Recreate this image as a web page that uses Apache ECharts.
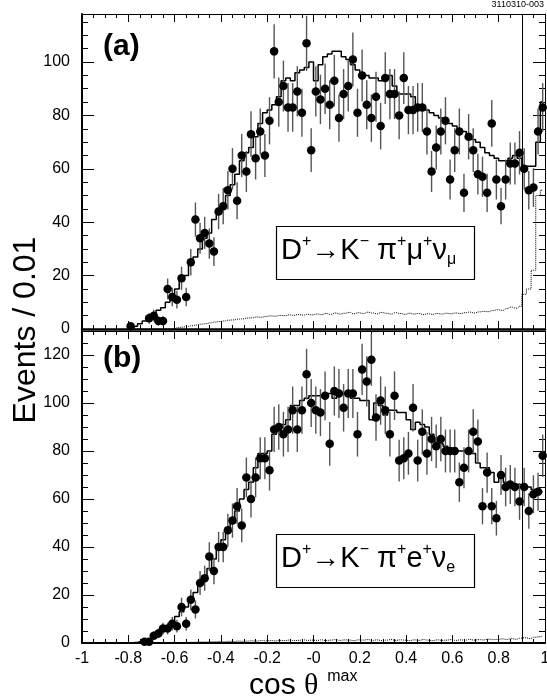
<!DOCTYPE html>
<html>
<head>
<meta charset="utf-8">
<script src="https://cdn.jsdelivr.net/npm/echarts/dist/echarts.min.js"></script>
<style>
html, body { margin: 0; padding: 0; background: #fff; }
#main { width: 547px; height: 698px; }
</style>
</head>
<body>
<div id="main"></div>
<script>
// bin centres, bin width 0.02
var binCenters = [
	-0.79,-0.77,-0.75,-0.73,-0.71,-0.69,-0.67,-0.65,-0.63,-0.61,
	-0.59,-0.57,-0.55,-0.53,-0.51,-0.49,-0.47,-0.45,-0.43,-0.41,
	-0.39,-0.37,-0.35,-0.33,-0.31,-0.29,-0.27,-0.25,-0.23,-0.21,
	-0.19,-0.17,-0.15,-0.13,-0.11,-0.09,-0.07,-0.05,-0.03,-0.01,
	0.01,0.03,0.05,0.07,0.09,0.11,0.13,0.15,0.17,0.19,
	0.21,0.23,0.25,0.27,0.29,0.31,0.33,0.35,0.37,0.39,
	0.41,0.43,0.45,0.47,0.49,0.51,0.53,0.55,0.57,0.59,
	0.61,0.63,0.65,0.67,0.69,0.71,0.73,0.75,0.77,0.79,
	0.81,0.83,0.85,0.87,0.89,0.91,0.93,0.95,0.97,0.99
];

// (a) D+ -> K- pi+ mu+ nu
var muData = [
	1, null, null, null, 4, 5, 3, 3, 15, 12,
	11, 19, 12, 25, 41, 34, 36, 32, 29, 44,
	46, 52, 60, 48, 65, 59, 73, 64, 74, 65,
	78, 104, 85, 91, 83, 83, 89, 81, 107, 67,
	89, 86, 90, 84, 93, 79, 88, 91, 101, 81,
	95, 84, 79, 87, 76, 94, 88, 88, 80, 94,
	82, 82, 83, 83, 74, 59, 68, 74, 78, 56,
	67, 74, 51, 72, 67, 58, 57, 51, 77, 56,
	46, 56, 62, 62, 66, 60, 52, 53, 74, 83
];
var muMC = [
	0.5, 1, 2, 3, 4, 5, 7, 8, 10, 13,
	15, 18, 20, 24, 27, 30, 34, 36, 41, 43,
	47, 50, 54, 58, 63, 66, 68, 72, 77, 81,
	82, 84, 87, 93, 94, 93, 96, 97, 98, 100,
	93, 99, 102, 103, 104, 104, 102, 101, 99, 97,
	96, 95, 94, 94, 93, 94, 95, 91, 88, 88,
	88, 87, 83, 83, 82, 81, 80, 79, 78, 77,
	76, 75, 74, 72, 71, 70, 68, 66, 65, 64,
	63, 63, 64, 65, 64, 61, 61, 61, 70, 85
];
var muBkg = [
	0, 0, 0, 0, 0, 0, 0, 0, 0, 0,
	0.5, 0.7, 1, 1.2, 1.5, 1.8, 2, 2.3, 2.6, 2.8,
	3, 3.3, 3.4, 3.7, 3.8, 4.1, 4.2, 4.5, 4.4, 4.7,
	4.9, 4.8, 5.1, 5.0, 5.3, 5.1, 5.4, 5.2, 5.5, 5.3,
	5.6, 5.4, 5.8, 5.5, 6.0, 5.6, 5.9, 6.2, 5.7, 6.1,
	5.8, 6.3, 6.0, 5.7, 6.2, 5.9, 5.6, 6.1, 5.8, 5.5,
	5.9, 5.6, 5.8, 5.4, 5.7, 5.5, 5.8, 5.6, 5.9, 5.7,
	6.0, 5.8, 6.1, 6.3, 6.0, 6.4, 6.6, 6.5, 6.9, 7.2,
	7.0, 7.6, 8.2, 7.8, 8.5, 13, 15, 22, 50, 52
];

// (b) D+ -> K- pi+ e+ nu
var eData = [
	null, null, null, 0.5, 0.5, 3, 4, 6, 6, 8,
	7, 15, 8, 18, 14, 25, 27, 36, 30, 40,
	40, 47, 51, 57, 49, 69, 60, 69, 77, 77,
	72, 89, 90, 87, 89, 97, 89, 97, 112, 100,
	97, 96, 103, 83, 105, 104, 98, 104, 104, 87,
	114, 109, 118, 94, 101, 97, 87, 103, 76, 77,
	79, 98, 76, 88, 79, 85, 82, 85, 80, 80,
	80, 67, 73, 80, 88, 84, 57, 71, 57, 52,
	70, 65, 66, 65, 59, 65, 55, 62, 63, 78
];
var eMC = [
	0, 0.2, 0.5, 1, 1.5, 2.5, 4, 5, 7, 9,
	11, 13, 15, 18, 21, 25, 27, 31, 35, 39,
	43, 47, 51, 55, 60, 64, 67, 73, 79, 79,
	80, 87, 88, 91, 93, 99, 99, 101, 102, 103,
	103, 103, 103, 104, 102, 104, 104, 104, 102, 102,
	101, 101, 93, 100, 99, 95, 97, 97, 96, 96,
	93, 89, 92, 91, 90, 87, 84, 83, 82, 81,
	81, 80, 80, 79, 79, 75, 73, 73, 71, 67,
	70, 67, 67, 66, 66, 65, 65, 64, 63, 63
];
var eBkg = [
	0, 0, 0, 0, 0, 0, 0, 0, 0, 0,
	0.1, 0.2, 0.2, 0.3, 0.3, 0.4, 0.4, 0.5, 0.5, 0.6,
	0.5, 0.7, 0.6, 0.8, 0.7, 0.8, 0.9, 0.8, 1.0, 0.9,
	1.0, 0.9, 1.1, 1.0, 1.2, 1.0, 1.1, 1.3, 1.1, 1.2,
	1.1, 1.3, 1.0, 1.2, 1.4, 1.1, 1.3, 1.2, 1.0, 1.3,
	1.2, 1.4, 1.1, 1.3, 1.0, 1.2, 1.4, 1.1, 1.3, 1.2,
	1.0, 1.3, 1.1, 1.4, 1.2, 1.0, 1.3, 1.1, 1.2, 1.4,
	1.1, 1.3, 1.2, 1.5, 1.2, 1.4, 1.3, 1.6, 1.4, 1.5,
	1.7, 1.5, 1.8, 1.6, 2.0, 2.2, 1.9, 2.4, 2.6, 2.8
];

var cutValue = 0.9;
var fontName = '"Liberation Sans", Arial, Helvetica, sans-serif';

function pairs(vals) {
	var out = [];
	for (var i = 0; i < binCenters.length; i++) {
		if (vals[i] != null) out.push([binCenters[i], vals[i]]);
	}
	return out;
}

// poisson error bars
function errPairs(vals) {
	var out = [];
	for (var i = 0; i < binCenters.length; i++) {
		if (vals[i] != null) {
			var e = Math.sqrt(vals[i]);
			out.push([binCenters[i], vals[i] - e, vals[i] + e]);
		}
	}
	return out;
}

function renderErr(params, api) {
	var lo = api.coord([api.value(0), api.value(1)]);
	var hi = api.coord([api.value(0), api.value(2)]);
	return {
		type: 'line',
		shape: { x1: lo[0], y1: lo[1], x2: hi[0], y2: hi[1] },
		style: { stroke: '#555', lineWidth: 1.4 }
	};
}

function xAxisFor(grid, position, showLabels, lineWidth) {
	return {
		type: 'value', gridIndex: grid, position: position,
		min: -1, max: 1, interval: 0.2,
		axisLine: { show: true, onZero: false, lineStyle: { color: '#000', width: lineWidth } },
		axisTick: { show: true, inside: true, length: 8, lineStyle: { color: '#000', width: 1 } },
		minorTick: { show: true, splitNumber: 4, length: 4, lineStyle: { color: '#000', width: 1 } },
		splitLine: { show: false },
		minorSplitLine: { show: false },
		axisLabel: {
			show: showLabels, color: '#000', fontFamily: fontName, fontSize: 16, margin: 8,
			formatter: function (v) {
				if (Math.abs(v) < 1e-9) return '-0';
				return String(Math.round(v * 10) / 10);
			}
		}
	};
}

function yAxisFor(grid, position, yMax, showLabels, lineWidth) {
	return {
		type: 'value', gridIndex: grid, position: position,
		min: 0, max: yMax, interval: 20,
		axisLine: { show: true, onZero: false, lineStyle: { color: '#000', width: lineWidth } },
		axisTick: { show: true, inside: true, length: 12, lineStyle: { color: '#000', width: 1 } },
		minorTick: { show: true, splitNumber: 4, length: 6, lineStyle: { color: '#000', width: 1 } },
		splitLine: { show: false },
		minorSplitLine: { show: false },
		axisLabel: {
			show: showLabels, color: '#000', fontFamily: fontName, fontSize: 16, margin: 12,
			showMaxLabel: false
		}
	};
}

function panelSeries(xi, yi, data, mc, bkg) {
	return [{
		type: 'line', xAxisIndex: xi, yAxisIndex: yi, step: 'middle',
		data: pairs(bkg), showSymbol: false, z: 2, silent: true,
		lineStyle: { color: '#000', width: 1, type: 'dotted' }
	}, {
		type: 'line', xAxisIndex: xi, yAxisIndex: yi, step: 'middle',
		data: pairs(mc), showSymbol: false, z: 3, silent: true,
		lineStyle: { color: '#000', width: 1.5 },
		markLine: {
			silent: true, symbol: ['none', 'none'], label: { show: false },
			lineStyle: { color: '#000', width: 1, type: 'solid' },
			data: [{ xAxis: cutValue }]
		}
	}, {
		type: 'custom', xAxisIndex: xi, yAxisIndex: yi, z: 4, clip: true,
		data: errPairs(data), renderItem: renderErr,
		encode: { x: 0, y: [1, 2] }
	}, {
		type: 'scatter', xAxisIndex: xi, yAxisIndex: yi, z: 5,
		data: pairs(data), symbol: 'circle', symbolSize: 8.5,
		itemStyle: { color: '#000', opacity: 1 }
	}];
}

function boxLabel(top, lepton, nuSub) {
	return [{
		type: 'rect', left: 274, top: top,
		shape: { width: 198, height: 53 },
		style: { fill: 'none', stroke: '#000', lineWidth: 1.2 }
	}, {
		type: 'text', x: 281, y: top + 27,
		style: {
			text: '{m|D}{s|+}{m|→K}{s|−}{m| π}{s|+}{m|' + lepton + '}{s|+}{m|ν}{b|' + nuSub + '}',
			verticalAlign: 'middle',
			rich: {
				m: { fontSize: 29, fontFamily: fontName, fill: '#000', lineHeight: 34 },
				s: { fontSize: 16, fontFamily: fontName, fill: '#000', verticalAlign: 'top', lineHeight: 18 },
				b: { fontSize: 16, fontFamily: fontName, fill: '#000', verticalAlign: 'bottom', lineHeight: 15 }
			}
		}
	}];
}

var myChart = echarts.init(document.getElementById('main'));

var option = {
	backgroundColor: '#fff',
	animation: false,
	grid: [
		{ left: 82, top: 14, width: 463, height: 315, outerBoundsMode: 'none' },
		{ left: 82, top: 331, width: 463, height: 312, outerBoundsMode: 'none' }
	],
	xAxis: [
		xAxisFor(0, 'bottom', false, 2.5),
		xAxisFor(0, 'top', false, 1),
		xAxisFor(1, 'bottom', true, 2),
		xAxisFor(1, 'top', false, 1)
	],
	yAxis: [
		yAxisFor(0, 'left', 118, true, 2),
		yAxisFor(0, 'right', 118, false, 1),
		yAxisFor(1, 'left', 130, true, 2),
		yAxisFor(1, 'right', 130, false, 1)
	],
	series: panelSeries(0, 0, muData, muMC, muBkg).concat(panelSeries(2, 2, eData, eMC, eBkg)),
	graphic: [
		{ type: 'text', right: 3, top: 0, style: { text: '3110310-003', fontSize: 9, fontFamily: fontName, fill: '#000' } },
		{ type: 'text', left: 103, top: 32, style: { text: '(a)', fontSize: 30, fontWeight: 'bold', fontFamily: fontName, fill: '#000' } },
		{ type: 'text', left: 103, top: 344, style: { text: '(b)', fontSize: 30, fontWeight: 'bold', fontFamily: fontName, fill: '#000' } },
		{
			type: 'text', x: 26, y: 330, rotation: Math.PI / 2,
			style: { text: 'Events / 0.01', fontSize: 32, fontFamily: fontName, fill: '#000', align: 'center', verticalAlign: 'middle' }
		},
		{
			type: 'text', x: 249, y: 686,
			style: {
				text: '{m|cos }{g|θ}{s|  max}', verticalAlign: 'middle',
				rich: {
					m: { fontSize: 30, fontFamily: fontName, fill: '#000', lineHeight: 34 },
					g: { fontSize: 30, fontFamily: '"Liberation Serif", serif', fill: '#000', lineHeight: 34 },
					s: { fontSize: 16, fontFamily: fontName, fill: '#000', verticalAlign: 'top', lineHeight: 18 }
				}
			}
		}
	].concat(boxLabel(224, 'μ', 'μ')).concat(boxLabel(532, 'e', 'e'))
};

myChart.setOption(option);
</script>
</body>
</html>
